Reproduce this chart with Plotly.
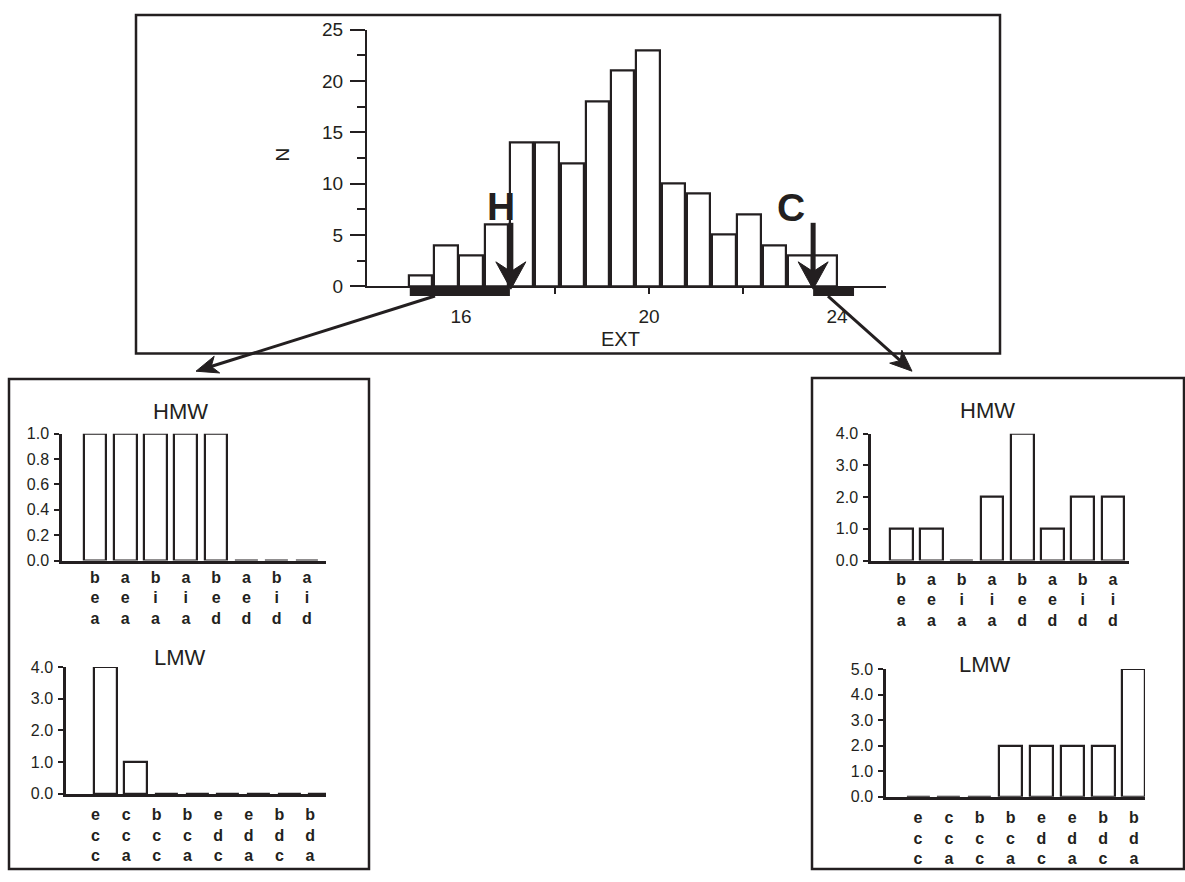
import math
import plotly.graph_objects as go

W, H = 1185, 882

# ---------------- data ----------------
ext_bin_centers = [15.14, 15.68, 16.21, 16.75, 17.29, 17.83, 18.37, 18.90, 19.44,
                   19.98, 20.52, 21.05, 21.59, 22.13, 22.67, 23.21, 23.75]
ext_counts = [1, 4, 3, 6, 14, 14, 12, 18, 21, 23, 10, 9, 5, 7, 4, 3, 3]
ext_tickvals = [16, 20, 24]
ext_minor_ticks = [18, 22]
n_tickvals = [0, 5, 10, 15, 20, 25]
h_range = [14.91, 17.04]
c_range = [23.49, 24.36]
h_arrow_x = 17.06
c_arrow_x = 23.49

hmw_cats = ["bea", "aea", "bia", "aia", "bed", "aed", "bid", "aid"]
lmw_cats = ["ecc", "cca", "bcc", "bca", "edc", "eda", "bdc", "bda"]
hmw_H = [1, 1, 1, 1, 1, 0, 0, 0]
lmw_H = [4, 1, 0, 0, 0, 0, 0, 0]
hmw_C = [1, 1, 0, 2, 4, 1, 2, 2]
lmw_C = [0, 0, 0, 2, 2, 2, 2, 5]

FONT = "Liberation Sans, Arial, Helvetica, sans-serif"
INK = "#231f20"


def px(x):
    return x / W


def py(y):
    return 1 - y / H


def xdom(a, b):
    return [a / W, b / W]


def ydom(top, bottom):
    return [1 - bottom / H, 1 - top / H]


fig = go.Figure()

# histogram
fig.add_trace(go.Bar(x=ext_bin_centers, y=ext_counts, width=0.5,
                     marker=dict(color="white", line=dict(color=INK, width=2.2)),
                     xaxis="x", yaxis="y", showlegend=False))


def small_bars(cats, vals, xa, ya, offset=None):
    kw = {}
    if offset is not None:
        kw["offset"] = offset
    fig.add_trace(go.Bar(x=cats, y=vals, width=0.75,
                         marker=dict(color="white", line=dict(color=INK, width=2.2)),
                         xaxis=xa, yaxis=ya, showlegend=False, **kw))


small_bars(hmw_cats, hmw_H, "x2", "y2")
small_bars(lmw_cats, lmw_H, "x3", "y3", offset=-0.375 + 0.32)
small_bars(hmw_cats, hmw_C, "x4", "y4")
small_bars(lmw_cats, lmw_C, "x5", "y5")

tickfont = dict(family=FONT, size=19, color=INK)
small_tickfont = dict(family=FONT, size=16, color=INK)
cat_font = dict(family=FONT, size=16, color=INK, weight="bold")

layout = dict(
    width=W, height=H, margin=dict(l=0, r=0, t=0, b=0),
    paper_bgcolor="white", plot_bgcolor="white",
    bargap=0, showlegend=False,
    xaxis=dict(domain=xdom(367, 886), range=[14.0, 25.04], showline=True,
               linecolor=INK, linewidth=2, showgrid=False, zeroline=False,
               tickmode="array", tickvals=ext_tickvals, ticks="outside",
               ticklen=6, tickwidth=2, tickcolor=INK, tickfont=tickfont,
               ticklabelstandoff=6, layer="above traces",
               minor=dict(tickmode="array", tickvals=ext_minor_ticks,
                          ticks="outside", ticklen=6, tickwidth=2, tickcolor=INK),
               anchor="y"),
    yaxis=dict(domain=ydom(20, 283), range=[0, 25], showline=True,
               linecolor=INK, linewidth=2, showgrid=False, zeroline=False,
               tickmode="array", tickvals=n_tickvals, ticks="outside",
               ticklen=15, tickwidth=2, tickcolor=INK, tickfont=tickfont,
               ticklabelstandoff=3, layer="above traces",
               minor=dict(dtick=2.5, tick0=0, ticks="outside", ticklen=8,
                          tickwidth=2, tickcolor=INK),
               anchor="x"),
)


def cat_axis(dom, rng, cats, anchor, standoff):
    return dict(domain=dom, range=rng, type="category", showline=True,
                linecolor=INK, linewidth=2.5, showgrid=False, zeroline=False,
                tickmode="array", tickvals=cats,
                ticktext=["<br>".join(c) for c in cats],
                ticks="", tickfont=cat_font, ticklabelstandoff=standoff,
                layer="above traces", anchor=anchor)


def val_axis(dom, rng, dtick, anchor):
    return dict(domain=dom, range=rng, showline=True, linecolor=INK,
                linewidth=2.5, showgrid=False, zeroline=False, dtick=dtick,
                tick0=0, tickformat=".1f", ticks="outside", ticklen=5,
                tickwidth=2, tickcolor=INK, tickfont=small_tickfont,
                ticklabelstandoff=2, layer="above traces", anchor=anchor)


layout["xaxis2"] = cat_axis(xdom(62, 326), [-1.09, 7.63], hmw_cats, "y2", 0)
layout["yaxis2"] = val_axis(ydom(434, 564), [0, 1.0], 0.2, "x2")
layout["xaxis3"] = cat_axis(xdom(66, 326), [-0.96, 7.52], lmw_cats, "y3", 4)
layout["yaxis3"] = val_axis(ydom(673, 803), [0, 4.0], 1.0, "x3")
layout["xaxis4"] = cat_axis(xdom(871, 1129), [-1.0, 7.53], hmw_cats, "y4", 2)
layout["yaxis4"] = val_axis(ydom(434, 564), [0, 4.0], 1.0, "x4")
layout["xaxis5"] = cat_axis(xdom(886, 1145), [-1.04, 7.36], lmw_cats, "y5", 4)
layout["yaxis5"] = val_axis(ydom(675, 806), [0, 5.0], 1.0, "x5")

fig.update_layout(**layout)

shapes = []


def rect_px(x0, y0, x1, y1, width=2.5):
    shapes.append(dict(type="rect", xref="paper", yref="paper",
                       x0=px(x0), x1=px(x1), y0=py(y1), y1=py(y0),
                       line=dict(color=INK, width=width), fillcolor="rgba(0,0,0,0)"))


# frames
rect_px(136, 5, 1000, 352)
rect_px(9, 378, 369, 880)
rect_px(812, 377, 1184, 880)

# thick range bars under the EXT axis
for r in (h_range, c_range):
    shapes.append(dict(type="rect", xref="x", yref="paper",
                       x0=r[0], x1=r[1], y0=py(293), y1=py(283),
                       line=dict(width=0), fillcolor=INK))


def arrow_px(x0, y0, tx, ty, L, hw, notch, lw):
    dx, dy = tx - x0, ty - y0
    n = math.hypot(dx, dy)
    dx, dy = dx / n, dy / n
    nx, ny = -dy, dx
    bx, by = tx - dx * L, ty - dy * L
    mx, my = tx - dx * (L - notch), ty - dy * (L - notch)
    b1 = (bx + nx * hw, by + ny * hw)
    b2 = (bx - nx * hw, by - ny * hw)
    shapes.append(dict(type="line", xref="paper", yref="paper",
                       x0=px(x0), y0=py(y0), x1=px(mx + dx * 2), y1=py(my + dy * 2),
                       line=dict(color=INK, width=lw)))
    path = "M {},{} L {},{} L {},{} L {},{} Z".format(
        px(tx), py(ty), px(b1[0]), py(b1[1]), px(mx), py(my), px(b2[0]), py(b2[1]))
    shapes.append(dict(type="path", xref="paper", yref="paper", path=path,
                       fillcolor=INK, line=dict(color=INK, width=1)))


def ext_to_px(v):
    return 367 + (v - 14.0) / (25.04 - 14.0) * (886 - 367)


arrow_px(ext_to_px(h_arrow_x), 218, ext_to_px(h_arrow_x), 286, 28, 15, 10, 5)
arrow_px(ext_to_px(c_arrow_x), 218, ext_to_px(c_arrow_x), 286, 28, 15, 10, 5)
arrow_px(435, 293, 196, 370, 22, 9, 6, 3)
arrow_px(828, 293, 912, 370, 22, 9, 6, 3)

fig.update_layout(shapes=shapes)

ann = []


def text_px(x, y, s, size, bold=False, angle=0):
    ann.append(dict(x=px(x), y=py(y), xref="paper", yref="paper", text=s,
                    showarrow=False, textangle=angle, xanchor="center", yanchor="middle",
                    font=dict(family=FONT, size=size, color=INK,
                              weight="bold" if bold else "normal")))


text_px(282, 148, "N", 19, angle=-90)
text_px(620, 337, "EXT", 20)
text_px(501, 201, "H", 39, bold=True)
text_px(791, 202, "C", 39, bold=True)
text_px(180, 411, "HMW", 22)
text_px(180, 663, "LMW", 22)
text_px(987, 410, "HMW", 22)
text_px(985, 670, "LMW", 22)

fig.update_layout(annotations=ann)

fig.write_html("out.html")
